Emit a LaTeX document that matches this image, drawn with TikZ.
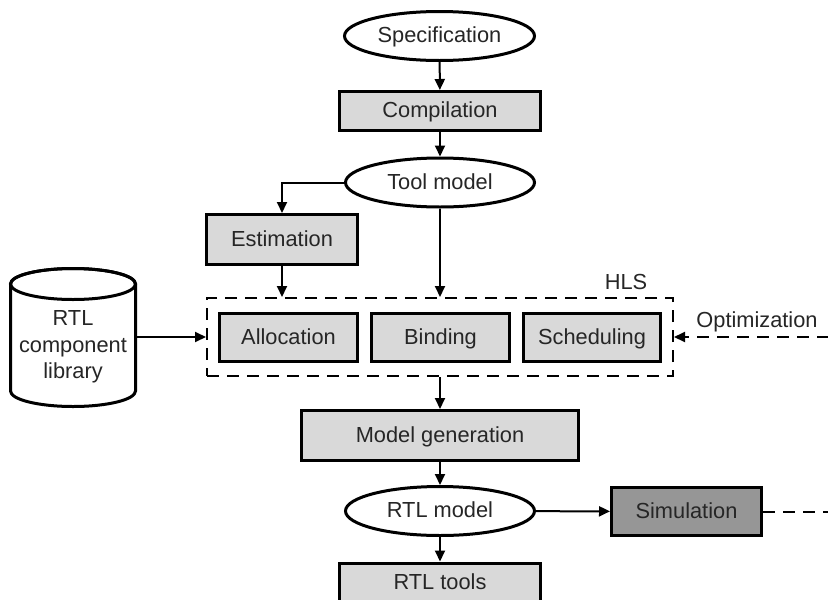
\documentclass[tikz,border=0pt]{standalone}
\usepackage{fontspec}
\setmainfont{Liberation Sans}
\usetikzlibrary{arrows.meta,shapes.geometric,calc}
\definecolor{boxfill}{RGB}{217,217,217}
\definecolor{simfill}{RGB}{150,150,150}
\definecolor{txt}{RGB}{38,38,38}
\begin{document}
\begin{tikzpicture}[x=1pt,y=-1pt,
  every node/.style={font=\fontsize{21.8}{26.5}\selectfont,text=txt,inner sep=0pt},
  fixtext/.style={text height=15.6pt,text depth=2.5pt},
  procbox/.style={fixtext,draw=black,line width=3pt,fill=boxfill,rectangle},
  simbox/.style={procbox,fill=simfill},
  oval/.style={fixtext,draw=black,line width=3pt,fill=white,ellipse,minimum width=189,minimum height=49},
  hlsbox/.style={draw=black,line width=2pt,dash pattern=on 12pt off 8pt,rectangle},
  conn/.style={draw=black,line width=2pt,-{Triangle[length=11pt,width=10pt]}},
  dconn/.style={conn,dash pattern=on 12pt off 8pt}
]
\clip (0,0) rectangle (828,600);
\fill[white] (0,0) rectangle (828,600);

% HLS group
\node[hlsbox,minimum width=466,minimum height=78] (hls) at (440,337) {};
\node[fixtext] (hlslabel) at (626,283) {HLS};
\node[procbox,minimum width=138,minimum height=48] (alloc) at (288.5,337.5) {Allocation};
\node[procbox,minimum width=138,minimum height=48] (bind) at (440.5,337.5) {Binding};
\node[procbox,minimum width=137,minimum height=48] (sched) at (592,337.5) {Scheduling};

% main chain
\node[oval,minimum width=190] (spec) at (439.5,36) {Specification};
\node[procbox,minimum width=201,minimum height=39] (comp) at (440,111) {Compilation};
\node[oval] (tool) at (440,182.5) {Tool model};
\node[procbox,minimum width=151,minimum height=50] (est) at (282,239.5) {Estimation};
\node[procbox,minimum width=277,minimum height=50] (mg) at (440,435.5) {Model generation};
\node[oval] (rtl) at (440,511) {RTL model};
\node[simbox,minimum width=150,minimum height=48] (sim) at (686.5,511.5) {Simulation};
\node[procbox,minimum width=201,minimum height=39] (tools) at (440,582.5) {RTL tools};

% library cylinder
\node[minimum width=125,minimum height=138] (lib) at (73,337) {};
\draw[line width=3pt,fill=white]
  (10.5,284) -- (10.5,391) arc[start angle=180,end angle=0,x radius=62.5,y radius=15.5]
  -- (135.5,284) arc[start angle=0,end angle=-180,x radius=62.5,y radius=15.5];
\draw[line width=3pt] (73,284) ellipse[x radius=62.5,y radius=15.5];
\node[align=center] (libtext) at (73,347) {RTL\\component\\library};

\node[fixtext] (opt) at (757,321) {Optimization};
\coordinate (cr1) at (828.6,511.5);
\coordinate (cr2) at (828.6,337);

% connectors
\draw[conn] (spec) -- (comp);
\draw[conn] (comp) -- (tool);
\draw[conn] (tool.west) -| (est.north);
\draw[conn] (tool.south) -- (tool.south |- hls.north);
\draw[conn] (est.south) -- (est.south |- hls.north);
\draw[conn] (lib.east) -- (hls.west);
\draw[conn] (hls.south) -- (mg.north);
\draw[conn] (mg) -- (rtl);
\draw[conn] (rtl) -- (sim);
\draw[conn] (rtl) -- (tools);
\draw[dconn] (sim.east) -- (cr1) -- (cr2) -- (hls.east);
\end{tikzpicture}
\end{document}
